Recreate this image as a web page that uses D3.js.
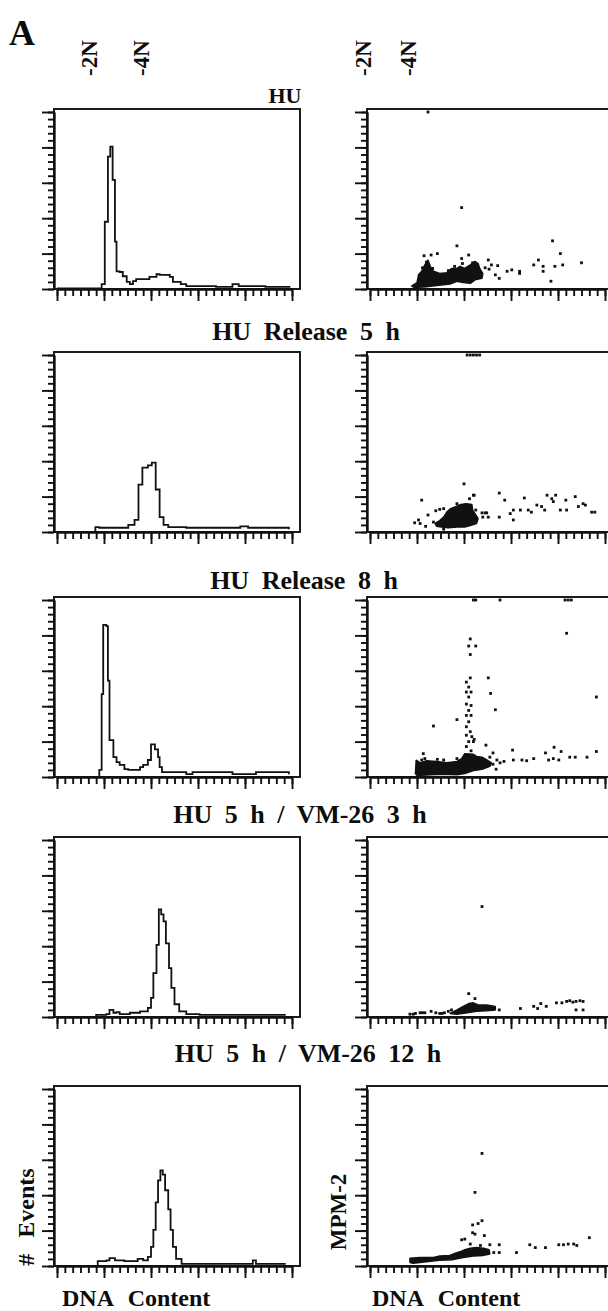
<!DOCTYPE html>
<html>
<head>
<meta charset="utf-8">
<script src="https://cdn.jsdelivr.net/npm/d3@7"></script>
<style>
  body { margin: 0; background: #fff; }
  svg text { font-family: "Liberation Serif", "DejaVu Serif", serif; font-weight: bold; fill: #0d0d0d; }
</style>
</head>
<body>
<div id="fig"></div>
<script>
// ---- data ----
const rowTitles = ["HU", "HU Release 5 h", "HU Release 8 h", "HU 5 h / VM-26 3 h", "HU 5 h / VM-26 12 h"];
const ploidyLabels = ["-2N", "-4N"];
const xMajor = [0, 60, 120, 180, 240, 300];
const xMinor = d3.range(0, 301, 10);
const yMajor = [0, 50, 100, 150, 200, 250];
const yMinor = d3.range(0, 251, 10);

// histograms: [DNA channel, # events]
const histHU = [[0,1],[52,1],[57,7],[61,95],[65,187],[68,201],[71,154],[74,67],[76,25],[80,24],[84,18],[89,10],[93,7],[97,11],[101,14],[114,14],[118,17],[127,21],[131,20],[144,17],[148,10],[158,7],[165,4],[178,4],[203,3],[224,7],[232,4],[266,3],[298,3]];
const histRel5 = [[0,0],[49,7],[54,6],[91,10],[99,17],[104,67],[109,91],[116,94],[121,98],[126,60],[131,21],[136,10],[142,7],[165,6],[219,6],[234,8],[244,6],[273,6],[296,4]];
const histRel8 = [[0,0],[54,10],[57,117],[59,215],[63,213],[65,136],[67,52],[72,28],[76,21],[80,17],[86,11],[91,10],[97,10],[106,14],[110,17],[116,24],[120,46],[125,39],[129,28],[131,14],[134,7],[165,4],[173,7],[182,7],[207,7],[224,4],[254,7],[296,4]];
const histVM3 = [[0,0],[50,3],[63,4],[67,10],[72,6],[76,7],[80,4],[93,6],[106,8],[116,13],[120,27],[123,62],[127,102],[130,152],[133,145],[136,135],[139,104],[143,69],[146,41],[150,18],[156,8],[165,4],[182,3],[224,3],[292,3]];
const histVM12 = [[0,0],[52,7],[63,8],[67,11],[74,8],[86,7],[97,7],[103,10],[110,8],[116,13],[120,27],[123,51],[126,90],[129,121],[132,135],[135,129],[138,107],[142,80],[145,51],[148,27],[152,10],[159,3],[182,3],[246,3],[250,8],[254,3],[292,3]];

// dot plots: [DNA channel, MPM-2] single events and dense cores (outlines)
const dotsHU = [[74,250],[117,115],[111,61],[86,50],[69,47],[78,48],[117,43],[126,48],[118,36],[151,41],[155,34],[163,33],[165,15],[175,25],[181,27],[191,22],[191,25],[209,34],[215,41],[221,32],[221,25],[233,68],[243,50],[236,32],[246,34],[231,11],[270,37],[147,30],[152,28],[160,20],[67,30],[72,38],[80,29],[100,26],[108,32],[131,37]];
const coreHU = [[53,4],[60,9],[62,20],[66,25],[70,34],[74,41],[77,32],[81,25],[89,22],[98,23],[104,29],[111,29],[115,32],[121,29],[128,34],[134,39],[138,36],[140,29],[144,22],[143,15],[134,13],[128,8],[119,9],[111,11],[102,7],[94,6],[85,5],[72,3],[57,2]];
const dotsRel5 = [[124,250],[128,250],[132,250],[136,250],[140,250],[120,68],[66,45],[133,52],[127,47],[165,55],[172,45],[183,31],[179,26],[183,17],[165,21],[149,27],[143,27],[147,27],[144,21],[151,21],[197,48],[192,31],[202,31],[206,28],[213,38],[219,36],[226,52],[232,47],[237,52],[234,43],[223,31],[243,31],[251,31],[250,45],[262,50],[266,36],[272,40],[275,38],[283,28],[287,28],[57,13],[62,17],[64,12],[71,8],[74,24],[81,14],[94,4],[84,30],[89,32],[94,33],[111,40],[132,52],[135,31]];
const coreRel5 = [[83,12],[89,16],[94,21],[98,28],[103,33],[110,36],[116,39],[123,40],[130,39],[131,31],[134,26],[138,19],[136,12],[130,10],[121,7],[111,7],[100,6],[91,7],[85,8]];
const dotsRel8 = [[132,250],[135,250],[166,250],[249,250],[253,250],[257,250],[251,203],[128,195],[126,185],[135,185],[128,173],[128,140],[151,140],[154,118],[160,95],[111,81],[81,72],[289,113],[123,134],[126,127],[123,120],[129,120],[126,113],[123,103],[129,101],[126,94],[123,87],[129,87],[126,78],[123,71],[128,64],[123,59],[130,57],[126,50],[132,50],[123,43],[129,37],[133,53],[148,45],[157,34],[153,28],[157,18],[161,11],[162,24],[166,20],[171,22],[182,38],[183,24],[194,24],[200,23],[209,26],[224,34],[228,24],[235,42],[234,26],[241,24],[244,36],[255,28],[262,28],[277,28],[289,36],[68,33],[70,26],[66,24],[86,25],[94,24],[111,26]];
const coreRel8 = [[58,5],[59,24],[64,20],[72,23],[85,22],[98,20],[111,22],[117,26],[121,33],[132,32],[136,29],[143,28],[149,24],[155,20],[153,15],[143,11],[132,9],[121,5],[111,3],[94,4],[77,3],[60,2]];
const dotsVM3 = [[143,156],[126,33],[134,26],[165,10],[192,12],[209,15],[214,12],[218,19],[225,15],[238,20],[245,20],[251,22],[255,23],[259,21],[263,22],[268,23],[272,22],[263,10],[272,10],[51,4],[55,4],[58,5],[64,6],[67,6],[70,6],[78,8],[84,6],[89,5],[92,5],[95,6],[100,8],[104,10]];
const coreVM3 = [[102,5],[111,10],[119,15],[126,19],[132,20],[138,17],[149,17],[160,15],[160,10],[149,9],[136,8],[124,6],[111,4]];
const dotsVM12 = [[143,159],[134,104],[143,64],[138,60],[131,58],[131,47],[134,45],[146,43],[117,37],[121,38],[128,31],[141,29],[153,30],[165,30],[165,19],[158,19],[187,19],[204,30],[211,26],[224,26],[241,30],[247,30],[253,31],[260,31],[264,29],[280,40]];
const coreVM12 = [[51,11],[64,12],[81,12],[89,14],[102,15],[109,18],[115,20],[121,23],[128,25],[136,26],[145,25],[152,23],[153,17],[145,15],[132,14],[119,12],[106,9],[89,8],[72,6],[55,4],[51,5]];

const hists = [histHU, histRel5, histRel8, histVM3, histVM12];
const dots = [dotsHU, dotsRel5, dotsRel8, dotsVM3, dotsVM12];
const cores = [coreHU, coreRel5, coreRel8, coreVM3, coreVM12];

// ---- layout ----
const W = 608, H = 1311;
const boxW = 246, boxH = 180;
const leftX = 54, rightX = 367;
const rowTop = [109, 352, 597, 837, 1086];
const titlePos = [[285, 103], [306, 340], [304, 589], [300, 823], [308, 1062]];

const svg = d3.select("#fig").append("svg")
    .attr("width", W)
    .attr("height", H);

const x = d3.scaleLinear().domain([0, 300]).range([3, 238]);
const y = d3.scaleLinear().domain([0, 250]).range([boxH, 3]);

svg.append("text")
    .attr("x", 9).attr("y", 45)
    .style("font-size", "36px")
    .text("A");

// -2N / -4N markers over both columns
const markX = [[97, 149], [371, 416]];
markX.forEach(function (pair) {
    pair.forEach(function (mx, i) {
        svg.append("text")
            .attr("transform", `translate(${mx},76) rotate(-90)`)
            .style("font-size", "23px")
            .text(ploidyLabels[i]);
    });
});

function drawAxes(g) {
    g.append("g").attr("transform", `translate(0,${boxH})`)
        .call(d3.axisBottom(x).tickValues(xMinor).tickSize(7).tickSizeOuter(0).tickFormat(""));
    g.append("g").attr("transform", `translate(0,${boxH})`)
        .call(d3.axisBottom(x).tickValues(xMajor).tickSize(12).tickSizeOuter(0).tickFormat(""));
    g.append("g")
        .call(d3.axisLeft(y).tickValues(yMinor).tickSize(6).tickSizeOuter(0).tickFormat(""));
    g.append("g")
        .call(d3.axisLeft(y).tickValues(yMajor).tickSize(12).tickSizeOuter(0).tickFormat(""));
    g.selectAll(".tick line").attr("stroke", "#111").attr("stroke-width", 1.9);
    g.selectAll(".domain").attr("stroke", "#111").attr("stroke-width", 1.9);
    g.append("rect")
        .attr("width", boxW).attr("height", boxH)
        .attr("fill", "none").attr("stroke", "#111").attr("stroke-width", 1.9);
}

const histLine = d3.line()
    .x(function (d) { return x(d[0]); })
    .y(function (d) { return y(d[1]); })
    .curve(d3.curveStepAfter);

const coreLine = d3.line()
    .x(function (d) { return x(d[0]); })
    .y(function (d) { return y(d[1]); })
    .curve(d3.curveLinearClosed);

rowTitles.forEach(function (t, r) {
    svg.append("text")
        .attr("x", titlePos[r][0]).attr("y", titlePos[r][1])
        .style("text-anchor", "middle")
        .style("font-size", r === 0 ? "22px" : "26px")
        .style("word-spacing", "6px")
        .text(t);

    let gh = svg.append("g").attr("transform", `translate(${leftX},${rowTop[r]})`);
    drawAxes(gh);
    gh.append("path")
        .datum(hists[r])
        .attr("d", histLine)
        .attr("fill", "none")
        .attr("stroke", "#111")
        .attr("stroke-width", 1.8);

    let gd = svg.append("g").attr("transform", `translate(${rightX},${rowTop[r]})`);
    drawAxes(gd);
    gd.append("path")
        .datum(cores[r])
        .attr("d", coreLine)
        .attr("fill", "#111")
        .attr("stroke", "#111")
        .attr("stroke-width", 1.5)
        .attr("stroke-linejoin", "bevel");
    gd.selectAll("rect.ev")
        .data(dots[r])
        .enter()
        .append("rect")
        .attr("class", "ev")
        .attr("x", function (d) { return x(d[0]) - 1.4; })
        .attr("y", function (d) { return Math.max(0, y(d[1]) - 1.4); })
        .attr("width", 2.8)
        .attr("height", 2.8)
        .attr("fill", "#111");
});

// bottom axis titles
svg.append("text")
    .attr("transform", "translate(34,1217) rotate(-90)")
    .style("text-anchor", "middle")
    .style("font-size", "24px")
    .style("word-spacing", "10px")
    .text("# Events");
svg.append("text")
    .attr("transform", "translate(346,1212) rotate(-90)")
    .style("text-anchor", "middle")
    .style("font-size", "23px")
    .text("MPM-2");
[62, 372].forEach(function (lx) {
    svg.append("text")
        .attr("x", lx).attr("y", 1306)
        .style("font-size", "24px")
        .style("word-spacing", "9px")
        .text("DNA Content");
});
</script>
</body>
</html>
